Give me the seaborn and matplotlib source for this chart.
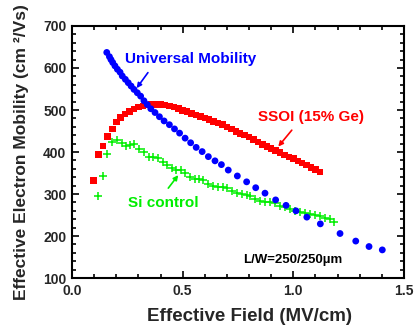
#!/usr/bin/env python

import matplotlib
matplotlib.use('Agg')
import matplotlib.pyplot as plt
from matplotlib.ticker import MultipleLocator
import seaborn as sns

# universal mobility curve (MV/cm, cm2/Vs)
univ_field = [0.157, 0.169, 0.176, 0.184, 0.194, 0.205, 0.217, 0.227, 0.241, 0.254,
              0.267, 0.280, 0.295, 0.310, 0.325, 0.340, 0.356, 0.375, 0.395, 0.416,
              0.440, 0.463, 0.486, 0.511, 0.536, 0.561, 0.588, 0.616, 0.646, 0.675,
              0.706, 0.747, 0.789, 0.830, 0.872, 0.920, 0.967, 1.012, 1.061, 1.122,
              1.211, 1.282, 1.342, 1.402]
univ_mob = [637, 627, 620, 613, 605, 597, 590, 581, 573, 565,
            557, 549, 541, 533, 522, 513, 503, 494, 484, 474,
            465, 455, 445, 433, 422, 411, 401, 389, 379, 370,
            357, 343, 329, 315, 302, 286, 273, 260, 245, 229,
            206, 188, 175, 167]

# SSOI (15% Ge)
ssoi_field = [0.096, 0.119, 0.139, 0.161, 0.182, 0.202, 0.22, 0.24, 0.26, 0.28,
              0.30, 0.32, 0.34, 0.36, 0.38, 0.40, 0.42, 0.44, 0.46, 0.48,
              0.50, 0.52, 0.54, 0.56, 0.58, 0.60, 0.62, 0.64, 0.66, 0.68,
              0.70, 0.72, 0.74, 0.76, 0.78, 0.80, 0.82, 0.84, 0.86, 0.88,
              0.90, 0.92, 0.94, 0.96, 0.98, 1.00, 1.02, 1.04, 1.06, 1.08,
              1.10, 1.12]
ssoi_mob = [332, 394, 414, 437, 455, 471, 482, 490, 496, 502,
            507, 510, 512, 513, 513, 513, 512, 510, 507, 503,
            499, 496, 492, 488, 484, 481, 477, 473, 469, 465,
            460, 455, 449, 444, 440, 436, 430, 424, 418, 413,
            408, 404, 399, 393, 388, 384, 379, 374, 369, 363,
            358, 352]

# Si control
si_field = [0.119, 0.139, 0.160, 0.182, 0.202, 0.224, 0.244, 0.262, 0.282, 0.304,
            0.325, 0.348, 0.368, 0.388, 0.410, 0.428, 0.450, 0.470, 0.491, 0.511,
            0.533, 0.556, 0.575, 0.593, 0.616, 0.638, 0.661, 0.684, 0.702, 0.722,
            0.744, 0.767, 0.789, 0.806, 0.827, 0.850, 0.872, 0.895, 0.917, 0.940,
            0.962, 0.985, 1.008, 1.030, 1.053, 1.075, 1.098, 1.120, 1.143, 1.166,
            1.185]
si_mob = [295, 343, 395, 423, 429, 422, 414, 417, 418, 407,
          399, 389, 388, 386, 377, 369, 361, 357, 357, 349,
          340, 335, 335, 333, 325, 319, 316, 316, 314, 308,
          303, 300, 298, 295, 288, 284, 282, 282, 278, 271,
          268, 264, 260, 258, 254, 252, 250, 248, 242, 240,
          234]

sns.set_style('ticks')
plt.rcParams['font.family'] = ['Liberation Sans', 'DejaVu Sans']
plt.rcParams['font.weight'] = 'bold'
plt.rcParams['axes.labelweight'] = 'bold'

BLUE = '#0000ff'
RED = '#ff0000'
GREEN = '#00ee00'

fig = plt.figure(figsize=(4.17, 3.31), dpi=100)
ax = fig.add_axes([0.1727, 0.160, 0.7961, 0.7615])

sns.scatterplot(x=univ_field, y=univ_mob, ax=ax, marker='o', s=24, color=BLUE,
                edgecolor='none', zorder=3)
sns.scatterplot(x=ssoi_field, y=ssoi_mob, ax=ax, marker='s', s=22, color=RED,
                edgecolor='none', zorder=2)
sns.scatterplot(x=si_field, y=si_mob, ax=ax, marker='+', s=30, color=GREEN,
                linewidth=1.1, zorder=2)

ax.set_xlim(0, 1.5)
ax.set_ylim(100, 700)
ax.xaxis.set_major_locator(MultipleLocator(0.5))
ax.xaxis.set_minor_locator(MultipleLocator(0.1))
ax.yaxis.set_major_locator(MultipleLocator(100))
ax.yaxis.set_minor_locator(MultipleLocator(20))
ax.tick_params(which='both', direction='in', top=True, right=True, width=1.2,
               color='black')
ax.tick_params(which='major', length=5, labelsize=10, pad=4)
ax.tick_params(which='minor', length=3)
for sp in ax.spines.values():
    sp.set_linewidth(1.5)
    sp.set_color('black')
for lab in ax.get_xticklabels() + ax.get_yticklabels():
    lab.set_fontweight('bold')

ax.set_xlabel('Effective Field (MV/cm)', fontsize=13.5)
ax.set_ylabel('Effective Electron Mobility (cm \u00b2/Vs)', fontsize=12.5)
ax.xaxis.set_label_coords(0.536, -0.12)
ax.yaxis.set_label_coords(-0.13, 0.5)

arrow = dict(arrowstyle='-|>', lw=1.2, mutation_scale=7, shrinkA=0, shrinkB=0)
ax.text(0.24, 621, 'Universal Mobility', color=BLUE, fontsize=11,
        fontweight='bold', va='center', ha='left')
ax.annotate('', xy=(0.292, 552), xytext=(0.343, 589),
            arrowprops=dict(arrow, color=BLUE))
ax.text(0.84, 483, 'SSOI (15% Ge)', color=RED, fontsize=11,
        fontweight='bold', va='center', ha='left')
ax.annotate('', xy=(0.932, 413), xytext=(0.993, 452),
            arrowprops=dict(arrow, color=RED))
ax.text(0.253, 279, 'Si control', color=GREEN, fontsize=11,
        fontweight='bold', va='center', ha='left')
ax.annotate('', xy=(0.48, 345), xytext=(0.435, 314),
            arrowprops=dict(arrow, color=GREEN))
ax.text(0.771, 143, 'L/W=250/250\u00b5m', color='black', fontsize=9.5,
        fontweight='bold', va='center', ha='left')

fig.savefig('out.png', dpi=100)
plt.close()
